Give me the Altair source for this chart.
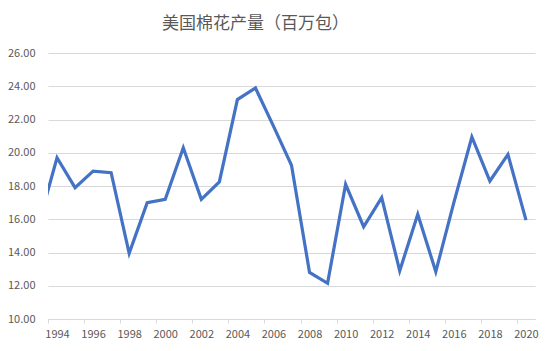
import altair as alt
import pandas as pd

years = list(range(1993, 2021))
production = [15.8, 19.7, 17.9, 18.9, 18.8, 13.95, 17.0, 17.2, 20.3, 17.2,
              18.25, 23.2, 23.9, 21.6, 19.25, 12.8, 12.15, 18.1, 15.55, 17.3,
              12.9, 16.3, 12.85, 17.0, 20.95, 18.3, 19.9, 15.95]
tick_years = [y + 0.5 for y in range(1993, 2020, 2)]
y_ticks = [10, 12, 14, 16, 18, 20, 22, 24, 26]

df = pd.DataFrame({"year": years, "value": production})

FONT = "Noto Sans CJK SC"
GREY = "#595959"

chart = alt.Chart(df).mark_line(color="#4472C4", strokeWidth=3.2, clip=True).encode(
    x=alt.X("year:Q",
            scale=alt.Scale(domain=[1993.5, 2020.5], nice=False, zero=False),
            axis=alt.Axis(values=tick_years, labelExpr="datum.value + 0.5",
                          labelOffset=9, title=None, grid=False,
                          domainColor="#d9d9d9", tickColor="#d9d9d9",
                          tickSize=4, labelColor=GREY, labelFontSize=11,
                          labelFont=FONT, labelPadding=5, labelFlush=False)),
    y=alt.Y("value:Q",
            scale=alt.Scale(domain=[10, 26], nice=False, zero=False),
            axis=alt.Axis(values=y_ticks, format=".2f", title=None,
                          domain=False, ticks=False, gridColor="#d9d9d9",
                          gridWidth=1, labelColor=GREY, labelFontSize=11,
                          labelFont=FONT, labelPadding=13)),
).properties(
    width=487,
    height=266,
    title=alt.TitleParams("美国棉花产量（百万包）", font=FONT, fontSize=17,
                          fontWeight="normal", color=GREY, dx=-36, offset=14),
    autosize=alt.AutoSizeParams(type="none"),
    padding={"left": 48, "top": 53, "right": 15, "bottom": 32},
    background="white",
).configure_view(stroke=None)

chart.save("out.html", embed_options={"renderer": "svg", "actions": False})
